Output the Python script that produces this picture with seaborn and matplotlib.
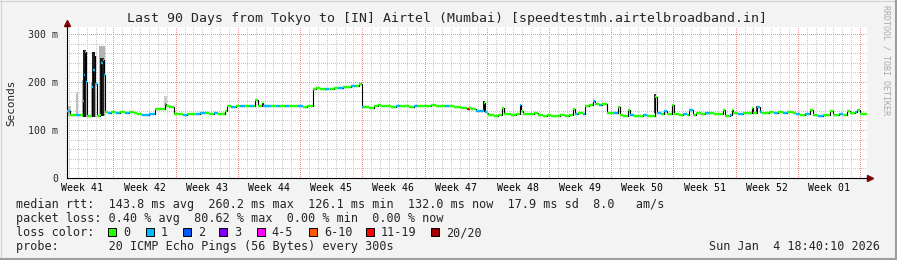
import matplotlib
matplotlib.use("Agg")
import matplotlib.pyplot as plt
from matplotlib.patches import Rectangle
from matplotlib.lines import Line2D
import seaborn as sns
import pandas as pd

# ---------------- data (x = days since Mon Oct 6 18:40, y = ms) ----------------
week_labels = ["Week 41", "Week 42", "Week 43", "Week 44", "Week 45", "Week 46", "Week 47",
               "Week 48", "Week 49", "Week 50", "Week 51", "Week 52", "Week 01"]

median_day = [0.00, 0.35, 1.00, 1.50, 1.75, 1.90, 2.00, 2.15, 2.25, 2.70, 2.80, 2.95, 3.10, 3.20,
              3.35, 3.75, 3.85, 4.00, 4.15, 4.30, 4.60, 5.00, 5.50, 6.00, 6.50, 7.00, 7.50, 7.90,
              8.40, 9.20, 9.90, 10.50, 11.00, 11.15, 11.50, 12.05, 12.50, 13.00, 13.50, 14.00, 14.50,
              15.00, 15.50, 16.00, 16.50, 17.00, 17.50, 17.80, 18.00, 18.50, 19.00, 19.50, 20.00,
              20.50, 21.00, 21.15, 21.50, 21.95, 22.10, 22.50, 23.00, 23.50, 24.00, 24.50, 25.00,
              25.50, 26.00, 26.50, 27.00, 27.67, 28.00, 28.50, 29.00, 29.50, 30.00, 30.50, 31.00,
              31.50, 32.00, 32.50, 32.90, 33.15, 33.40, 34.00, 34.50, 35.00, 35.30, 36.00, 36.50,
              37.00, 37.50, 38.00, 38.50, 39.00, 39.50, 40.00, 40.50, 41.00, 41.50, 42.00, 42.50,
              43.00, 43.50, 44.30, 45.00, 45.20, 45.50, 46.00, 46.90, 47.05, 47.20, 47.40, 48.00,
              48.50, 48.94, 49.15, 49.50, 50.00, 50.50, 50.96, 51.10, 51.30, 52.00, 52.50, 53.00,
              53.50, 54.00, 54.50, 55.00, 55.50, 56.00, 56.50, 56.90, 57.10, 57.50, 58.00, 58.27,
              58.70, 59.20, 59.40, 59.80, 60.20, 60.70, 61.50, 62.00, 62.20, 62.50, 63.15, 63.30,
              63.80, 64.30, 64.80, 65.20, 65.60, 66.15, 66.35, 66.80, 67.20, 67.50, 68.06, 68.30,
              68.80, 69.30, 69.80, 69.97, 70.40, 70.80, 71.30, 71.80, 72.30, 72.80, 73.50, 73.83,
              74.00, 74.60, 74.81, 74.95, 75.50, 76.00, 76.50, 77.05, 77.20, 77.62, 77.96, 78.20,
              79.00, 79.50, 80.00, 80.50, 81.00, 81.70, 82.00, 82.50, 83.00, 83.59, 83.92, 84.50,
              85.00, 85.84, 86.17, 86.80, 87.29, 87.74, 88.08, 88.64, 88.87, 89.20, 90.00]
median_ms = [140, 131, 132, 131, 160, 215, 262, 200, 129, 130, 190, 225, 255, 195,
             130, 132, 240, 245, 215, 138, 136, 137, 136, 137, 136, 137, 135, 133,
             131, 133, 143, 143, 154, 150, 148, 133, 133, 132, 133, 133, 134,
             136, 136, 134, 135, 134, 133, 140, 150, 148, 150, 149, 150,
             149, 150, 162, 150, 157, 149, 150, 149, 150, 149, 150, 151,
             149, 150, 148, 150, 186, 188, 185, 186, 185, 187, 188, 189,
             190, 191, 192, 196, 148, 147, 146, 150, 153, 149, 150, 148,
             151, 150, 149, 148, 150, 151, 149, 150, 152, 150, 151, 149,
             150, 147, 145, 143, 145, 143, 140, 157, 138, 135, 131, 130,
             131, 146, 133, 134, 132, 133, 152, 140, 134, 133, 135, 131,
             130, 132, 129, 130, 131, 130, 132, 143, 134, 135, 133, 150,
             152, 161, 155, 152, 155, 136, 136, 148, 132, 130, 141, 131,
             130, 129, 132, 130, 129, 168, 136, 134, 140, 134, 152, 133,
             131, 133, 132, 141, 132, 135, 134, 136, 135, 133, 134, 141,
             130, 131, 141, 135, 134, 135, 136, 145, 136, 148, 137, 136,
             137, 136, 137, 136, 137, 135, 133, 132, 134, 142, 131, 130,
             132, 139, 132, 133, 131, 140, 136, 137, 142, 133, 131]
median_loss = [1, 0, 1, 0, 1, 1, 1, 1, 0, 0, 1, 1, 1, 1,
               0, 0, 1, 1, 1, 0, 1, 0, 1, 0, 1, 0, 0, 0,
               1, 1, 0, 0, 1, 0, 0, 0, 0, 1, 0, 0, 1,
               1, 0, 0, 1, 0, 0, 0, 0, 1, 0, 1, 0,
               1, 0, 0, 0, 0, 1, 1, 0, 1, 0, 1, 0,
               0, 1, 0, 0, 0, 0, 0, 1, 0, 0, 1, 0,
               0, 1, 0, 0, 1, 0, 0, 0, 0, 0, 0, 0,
               1, 0, 0, 0, 1, 0, 0, 0, 0, 0, 0, 1,
               0, 0, 0, 6, 0, 0, 1, 0, 1, 0, 0, 0,
               0, 0, 0, 0, 0, 0, 1, 0, 0, 0, 0, 0,
               0, 0, 0, 0, 0, 0, 0, 0, 1, 0, 1, 0,
               0, 1, 0, 1, 0, 0, 1, 0, 0, 0, 0, 1,
               0, 0, 1, 0, 0, 0, 1, 0, 1, 0, 0, 0,
               0, 1, 0, 1, 0, 0, 0, 1, 0, 0, 0, 0,
               0, 1, 0, 0, 1, 0, 0, 0, 0, 1, 1, 0,
               0, 1, 0, 1, 0, 0, 1, 0, 1, 0, 0, 1,
               0, 0, 0, 1, 0, 0, 0, 1, 0, 0, 0]

# smoke (ping spread) where it is visible: start day, end day, low ms, high ms, darkness
smoke_start = [0.00, 1.05, 1.70, 1.85, 2.65, 2.80, 3.60, 3.72, 10.95, 66.05, 46.85, 77.55]
smoke_end = [0.40, 1.25, 2.30, 2.18, 3.30, 3.15, 4.30, 4.12, 11.20, 66.30, 47.00, 77.75]
smoke_lo = [130, 131, 128, 128, 128, 128, 130, 130, 150, 136, 138, 137]
smoke_hi = [150, 178, 205, 266, 200, 262, 274, 250, 170, 176, 160, 150]
smoke_dark = [0.25, 0.25, 0.35, 0.88, 0.35, 0.88, 0.3, 0.88, 0.2, 0.8, 0.9, 0.8]

loss_labels = ["0", "1", "2", "3", "4-5", "6-10", "11-19", "20/20"]
loss_colors = ["#26ff00", "#00b8ff", "#0059ff", "#7e00ff", "#ff00ff", "#ff5500", "#ff0000", "#a10000"]

stats_rtt = "median rtt:  143.8 ms avg  260.2 ms max  126.1 ms min  132.0 ms now  17.9 ms sd  8.0   am/s"
stats_loss = "packet loss: 0.40 % avg  80.62 % max  0.00 % min  0.00 % now"
probe_txt = "probe:       20 ICMP Echo Pings (56 Bytes) every 300s"
date_txt = "Sun Jan  4 18:40:10 2026"
title_txt = "Last 90 Days from Tokyo to [IN] Airtel (Mumbai) [speedtestmh.airtelbroadband.in]"

# ---------------- figure ----------------
sns.set_theme(style="white")
plt.rcParams["font.family"] = ["DejaVu Sans Mono"]
plt.rcParams["lines.scale_dashes"] = False

W, H = 897, 260
fig = plt.figure(figsize=(W / 100, H / 100), dpi=100, facecolor="#f3f3f3")
ax = fig.add_axes([67 / W, 1 - 178 / H, 800 / W, (178 - 27) / H])
ax.set_facecolor("white")
ax.set_xlim(0, 90)
ax.set_ylim(0, 314.6)

dot = (0, (0.36, 1.08))
GRAY = "#c8c8c8"
RED = "#f08c8c"
sundays = [5.22 + 7 * k for k in range(13)]
for k in range(90):
    d = 0.22 + k
    if any(abs(d - s) < 0.01 for s in sundays):
        continue
    ax.axvline(d, color=GRAY, lw=0.72, ls=dot, zorder=0.5, antialiased=False)
for s in sundays:
    ax.axvline(s, color=RED, lw=0.72, ls=dot, zorder=0.6, antialiased=False)
for v in range(20, 301, 20):
    if v % 100 == 0:
        ax.axhline(v, color=RED, lw=0.72, ls=dot, zorder=0.6, antialiased=False)
    else:
        ax.axhline(v, color=GRAY, lw=0.72, ls=dot, zorder=0.5, antialiased=False)

# smoke
for s, e, lo, hi, dk in zip(smoke_start, smoke_end, smoke_lo, smoke_hi, smoke_dark):
    ax.fill_between([s, e], [lo, lo], [hi, hi], color=str(1 - dk), lw=0, zorder=1)

# median line: black connectors + colored horizontal steps
df = pd.DataFrame({"day": median_day, "ms": median_ms})
sns.lineplot(data=df, x="day", y="ms", drawstyle="steps-post", color="black", lw=0.8,
             estimator=None, sort=False, ax=ax, zorder=2)
seg_colors = [loss_colors[l] for l in median_loss]
ax.hlines(median_ms[:-1], median_day[:-1], median_day[1:], colors=seg_colors[:-1], lw=1.7, zorder=3)

# axes styling
for sp in ["top", "right"]:
    ax.spines[sp].set_visible(False)
for sp in ["left", "bottom"]:
    ax.spines[sp].set_color("black")
    ax.spines[sp].set_linewidth(0.8)
ax.set_xlabel("")
ax.set_ylabel("Seconds", fontsize=7.9)
ax.yaxis.set_label_coords(-51 / 800, 0.5)

ax.set_xticks([1.72 + 7 * k for k in range(13)], labels=week_labels)
ax.set_xticks([0.22 + k for k in range(90)], minor=True)
ax.tick_params(axis="x", which="major", length=0, pad=3.5, labelsize=7.1, colors="black")
ax.tick_params(axis="x", which="minor", length=2, color="#bbbbbb", width=0.7)
ax.set_yticks([0, 100, 200, 300], labels=["0", "100 m", "200 m", "300 m"])
ax.tick_params(axis="y", length=2, color=RED, width=0.7, pad=4.5, labelsize=7.1)

# axis arrows
ax.plot([1.0035], [0], marker=">", color="#7f0000", ms=4.5, transform=ax.transAxes, clip_on=False)
ax.plot([0], [1.025], marker="^", color="#7f0000", ms=4.5, transform=ax.transAxes, clip_on=False)
ax.plot([0, 0], [1.0, 1.02], color="black", lw=0.8, transform=ax.transAxes, clip_on=False)

# texts
def fx(px):
    return px / W


def fy(py):
    return 1 - py / H


fig.text(fx(447), fy(18.5), title_txt, fontsize=9.5, ha="center", va="center")
fig.text(fx(16), fy(208), stats_rtt, fontsize=8.5, va="baseline")
fig.text(fx(16), fy(222), stats_loss, fontsize=8.5, va="baseline")
fig.text(fx(16), fy(236), "loss color:", fontsize=8.5, va="baseline")
fig.text(fx(16), fy(250), probe_txt, fontsize=8.5, va="baseline")
fig.text(fx(880), fy(250), date_txt, fontsize=8.5, va="baseline", ha="right")

box_x = [108.3, 145.7, 182.7, 219.3, 256.7, 309.0, 366.0, 431.0]
for bx, lab, col in zip(box_x, loss_labels, loss_colors):
    fig.patches.append(Rectangle((fx(bx), fy(236)), 8 / W, 8 / H, transform=fig.transFigure,
                                 facecolor=col, edgecolor="black", lw=0.7))
    fig.text(fx(bx + 15), fy(236), lab, fontsize=8.5, va="baseline")

fig.text(fx(886), fy(5), "RRDTOOL / TOBI OETIKER", fontsize=6, rotation=270, color="#aaaaaa",
         ha="center", va="top")

# bevel border
fig.add_artist(Line2D([0, 1], [1 - 0.5 / H, 1 - 0.5 / H], color="#d0d0d0", lw=0.8, transform=fig.transFigure))
fig.add_artist(Line2D([0.5 / W, 0.5 / W], [0, 1], color="#d0d0d0", lw=0.8, transform=fig.transFigure))
fig.add_artist(Line2D([0, 1], [1 / H, 1 / H], color="#9d9d9d", lw=1.5, transform=fig.transFigure))
fig.add_artist(Line2D([1 - 1 / W, 1 - 1 / W], [0, 1], color="#9d9d9d", lw=1.5, transform=fig.transFigure))

fig.savefig("out.png", dpi=100, facecolor=fig.get_facecolor())
